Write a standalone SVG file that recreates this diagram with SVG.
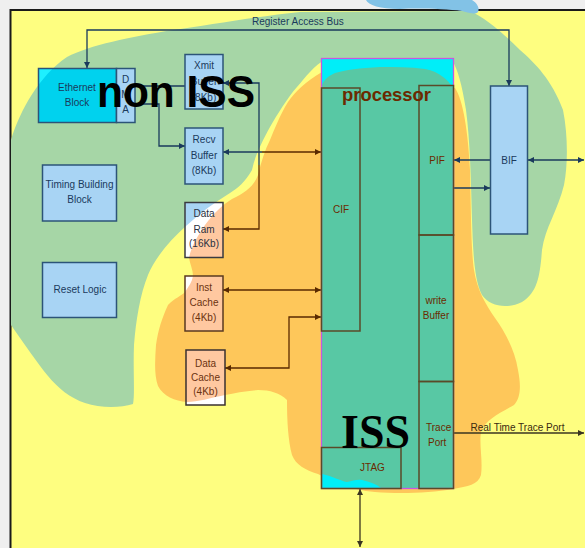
<svg xmlns="http://www.w3.org/2000/svg" width="585" height="548" viewBox="0 0 585 548">
<style>
text{font-family:"Liberation Sans",Arial,sans-serif;font-size:10px}
.m{text-anchor:middle}
.tb{fill:#1a3a5c}
.to{fill:#6b3210}
.tp{fill:#6b2a00}
.bx{stroke:#2c5478;stroke-width:1.5;fill:none}
.bo{stroke:#5a3a20;stroke-width:1.5;fill:none}
.lb{fill:#a8d4f4}
.ls{fill:#ffc8a0}
.pl{fill:none;stroke:#5a4a28;stroke-width:1.5}
.cn{fill:none;stroke:#1a3a5c;stroke-width:1.3}
.cb{fill:none;stroke:#5a2a00;stroke-width:1.3}
.cd{fill:none;stroke:#3a3420;stroke-width:1.3}
.big{font-weight:bold;font-size:45px;fill:#000000}
.iss{font-family:"Liberation Serif","Times New Roman",serif;font-weight:bold;font-size:48px;fill:#000000}
.proc{font-weight:bold;font-size:19px;fill:#6b2a00}
</style>
<defs>
<path id="green" d="M11,140 C20,110 40,75 67,57 C90,45 130,37 173,30 C210,25 260,16 300,12 L470,11 C485,18 500,30 520,50 C535,63 552,80 563,110 C568,135 568,165 564,185 C558,210 545,228 542,250 C540,275 538,292 522,302 C508,309 490,307 482,295 C474,280 473,250 472,220 C471,180 470,140 466,110 C462,85 458,70 452,60 L325,60 C315,64 305,78 297,87 C288,97 277,115 270,127 C263,140 255,155 252,170 C245,182 238,188 230,193 C215,202 200,213 186,226 C170,240 155,258 148,275 C140,295 136,320 134,345 C133,370 135,395 133,404 C120,408 100,408 85,403 C70,398 58,388 48,376 C38,364 25,345 11,325 Z"/>
<path id="orange" d="M322,72 L455,88 C463,100 468,130 470,170 C471,210 471,250 474,270 C477,290 486,305 495,318 C505,332 515,350 518,370 C521,385 521,398 514,405 C500,413 485,420 481,432 C479,445 483,460 481,475 C478,485 468,486 453,489 C430,493 400,494 375,492 C350,490 330,480 318,474 C305,470 296,465 292,455 C288,440 287,420 287,400 C280,393 270,390 258,390 C245,391 235,393 225,395 C210,398 198,402 187,402 C175,401 163,396 158,386 C154,375 155,360 156,345 C158,330 162,318 168,305 C175,298 181,296 185,292 C189,286 192,282 193,276 C193,270 190,264 189,258 C191,248 196,238 205,225 C213,214 222,205 232,199 C245,193 254,186 258,175 C261,162 265,150 270,140 C275,128 280,115 288,102 C295,92 305,82 322,72 Z"/>
<clipPath id="cg"><use href="#green"/></clipPath>
<clipPath id="co"><use href="#orange"/></clipPath>
<clipPath id="ctr"><rect x="419" y="381" width="34" height="107"/></clipPath>
<marker id="mn" viewBox="0 0 8 8" refX="8" refY="4" markerWidth="6" markerHeight="6" markerUnits="userSpaceOnUse" orient="auto-start-reverse"><path d="M0,0 L8,4 L0,8 Z" fill="#1a3a5c"/></marker>
<marker id="mb" viewBox="0 0 8 8" refX="8" refY="4" markerWidth="6" markerHeight="6" markerUnits="userSpaceOnUse" orient="auto-start-reverse"><path d="M0,0 L8,4 L0,8 Z" fill="#5a2a00"/></marker>
<marker id="md" viewBox="0 0 8 8" refX="8" refY="4" markerWidth="6" markerHeight="6" markerUnits="userSpaceOnUse" orient="auto-start-reverse"><path d="M0,0 L8,4 L0,8 Z" fill="#3a3420"/></marker>
</defs>

<g id="background">
<rect x="0" y="0" width="585" height="548" fill="#efefef"/>
<rect x="10.5" y="10" width="580" height="545" fill="#fefe80" stroke="#1a1a1a" stroke-width="2"/>
<use href="#green" fill="#a6d6a6"/>
<path d="M366,0 C368,5 380,9 400,9 C420,8 445,9 462,11 C470,13 475,15 478,12 C480,8 477,3 472,0 Z" fill="#82c2e6"/>
<use href="#orange" fill="#fec75a"/>
</g>

<g id="connectors">
<path class="cn" d="M87,68 V30 H509 V86" marker-start="url(#mn)" marker-end="url(#mn)"/>
<path class="cn" d="M135,86 H185"/>
<path class="cn" d="M135,104 H159 V146 H185" marker-end="url(#mn)"/>
<path class="cn" d="M223,83 H259 V165" marker-start="url(#mn)"/>
<path class="cb" d="M259,165 V229 H223" marker-end="url(#mb)"/>
<path class="cn" d="M262,152 H223" marker-end="url(#mn)"/>
<path class="cb" d="M262,152 H321" marker-end="url(#mb)"/>
<path class="cb" d="M223,290 H321" marker-start="url(#mb)" marker-end="url(#mb)"/>
<path class="cb" d="M225,368 H289 V317 H321" marker-start="url(#mb)" marker-end="url(#mb)"/>
<path class="cn" d="M490,160 H454" marker-end="url(#mn)"/>
<path class="cn" d="M454,188 H490" marker-end="url(#mn)"/>
<path class="cn" d="M528,160 H584" marker-start="url(#mn)" marker-end="url(#mn)"/>
<path class="cd" d="M454,433 H584" marker-end="url(#md)"/>
<path class="cd" d="M360,489 V547" marker-start="url(#md)" marker-end="url(#md)"/>
<text class="tb" x="252" y="25">Register Access Bus</text>
<text fill="#3a2a10" x="470.5" y="431">Real Time Trace Port</text>
</g>

<g id="ethernet">
<rect x="38.5" y="68.5" width="78" height="54" fill="#1ef0ff"/>
<rect x="38.5" y="68.5" width="78" height="54" fill="#00d2ee" clip-path="url(#cg)"/>
<rect x="38.5" y="68.5" width="78" height="54" class="bx"/>
<text class="tb m" x="77" y="91">Ethernet</text>
<text class="tb m" x="77" y="106">Block</text>
</g>
<g id="dma">
<rect x="116.5" y="68.5" width="18.5" height="54" class="lb"/>
<rect x="116.5" y="68.5" width="18.5" height="54" class="bx"/>
<text class="tb m" x="125.5" y="82.5">D</text>
<text class="tb m" x="125.5" y="97.5">M</text>
<text class="tb m" x="125.5" y="112.5">A</text>
</g>
<g id="xmit">
<rect x="185" y="54.5" width="38" height="54.5" class="lb"/>
<rect x="185" y="54.5" width="38" height="54.5" class="bx"/>
<text class="tb m" x="204" y="69">Xmit</text>
<text class="tb m" x="204" y="85">Buffer</text>
<text class="tb m" x="204" y="101">(8Kb)</text>
</g>
<g id="recv">
<rect x="185" y="128" width="38" height="56" class="lb"/>
<rect x="185" y="128" width="38" height="56" class="bx"/>
<text class="tb m" x="204" y="143">Recv</text>
<text class="tb m" x="204" y="158.5">Buffer</text>
<text class="tb m" x="204" y="173.5">(8Kb)</text>
</g>
<g id="timing">
<rect x="42.5" y="165" width="74" height="56" class="lb"/>
<rect x="42.5" y="165" width="74" height="56" class="bx"/>
<text class="tb m" x="79.5" y="188">Timing Building</text>
<text class="tb m" x="79.5" y="203">Block</text>
</g>
<g id="reset">
<rect x="42.5" y="262.5" width="74" height="55" class="lb"/>
<rect x="42.5" y="262.5" width="74" height="55" class="bx"/>
<text class="tb m" x="80" y="292.5">Reset Logic</text>
</g>
<g id="dataram">
<rect x="185" y="202.5" width="38" height="55" fill="#ffffff"/>
<rect x="185" y="202.5" width="38" height="55" class="lb" clip-path="url(#cg)"/>
<rect x="185" y="202.5" width="38" height="55" class="ls" clip-path="url(#co)"/>
<rect x="185" y="202.5" width="38" height="55" fill="none" stroke="#3a3a40" stroke-width="1.5"/>
<text class="m" fill="#2a3040" x="204" y="217">Data</text>
<text class="m" fill="#2a3040" x="204" y="232.5">Ram</text>
<text class="m" fill="#2a3040" x="204" y="247">(16Kb)</text>
</g>
<g id="instcache">
<rect x="185" y="276" width="38" height="55" fill="#ffffff"/>
<rect x="185" y="276" width="38" height="55" class="ls" clip-path="url(#co)"/>
<rect x="185" y="276" width="38" height="55" class="bo"/>
<text class="to m" x="204" y="291">Inst</text>
<text class="to m" x="204" y="306">Cache</text>
<text class="to m" x="204" y="321">(4Kb)</text>
</g>
<g id="datacache">
<rect x="186" y="350" width="39" height="55" fill="#ffffff"/>
<rect x="186" y="350" width="39" height="55" class="ls" clip-path="url(#co)"/>
<rect x="186" y="350" width="39" height="55" fill="none" stroke="#3a3030" stroke-width="1.5"/>
<text class="to m" x="205.5" y="366.5">Data</text>
<text class="to m" x="205.5" y="380.5">Cache</text>
<text class="to m" x="205.5" y="395">(4Kb)</text>
</g>
<g id="bif">
<rect x="490.5" y="86" width="37" height="148" class="lb"/>
<rect x="490.5" y="86" width="37" height="148" class="bx"/>
<text class="tb m" x="509" y="163.5">BIF</text>
</g>

<g id="processor">
<rect x="321.5" y="58.5" width="132" height="430" fill="#58c8a4"/>
<path d="M322,59 H453 V88 C448,80 440,72 425,69 C410,67 395,67 380,67 C360,68 345,70 335,73 C328,76 324,80 322,85 Z" fill="#00eef8"/>
<path d="M322,474 C333,476 340,481 347,482 C353,481 357,479 362,480 C370,482 376,484 381,488 L322,488 Z" fill="#00eef8"/>
<rect x="321.5" y="58.5" width="132" height="430" fill="none" stroke="#c858e0" stroke-width="1.3"/>
</g>
<g id="cif">
<rect x="321.5" y="88" width="38.5" height="243" class="pl"/>
<text class="tp m" x="341" y="212.5">CIF</text>
</g>
<g id="pif">
<rect x="419" y="85.5" width="34.5" height="149.5" class="pl"/>
<text class="tp m" x="437" y="163.5">PIF</text>
</g>
<g id="writebuffer">
<rect x="419" y="235" width="34.5" height="146.5" class="pl"/>
<text class="tp m" x="436" y="303.5">write</text>
<text class="tp m" x="436" y="318.5">Buffer</text>
</g>
<g id="traceport">
<rect x="419" y="381.5" width="34.5" height="107" class="pl"/>
<g clip-path="url(#ctr)">
<text class="tp" x="426" y="430.5">Trace</text>
<text class="tp" x="428" y="445.5">Port</text>
</g>
</g>
<g id="jtag">
<rect x="321.5" y="447.5" width="79.5" height="41" class="pl"/>
<text class="tp m" x="372.5" y="470.5">JTAG</text>
</g>

<g id="labels">
<text class="proc" x="342" y="101" textLength="89" lengthAdjust="spacingAndGlyphs">processor</text>
<text class="big" x="97" y="107" textLength="158" lengthAdjust="spacingAndGlyphs">non ISS</text>
<text class="iss" x="341" y="448" textLength="69" lengthAdjust="spacingAndGlyphs">ISS</text>
</g>
</svg>
